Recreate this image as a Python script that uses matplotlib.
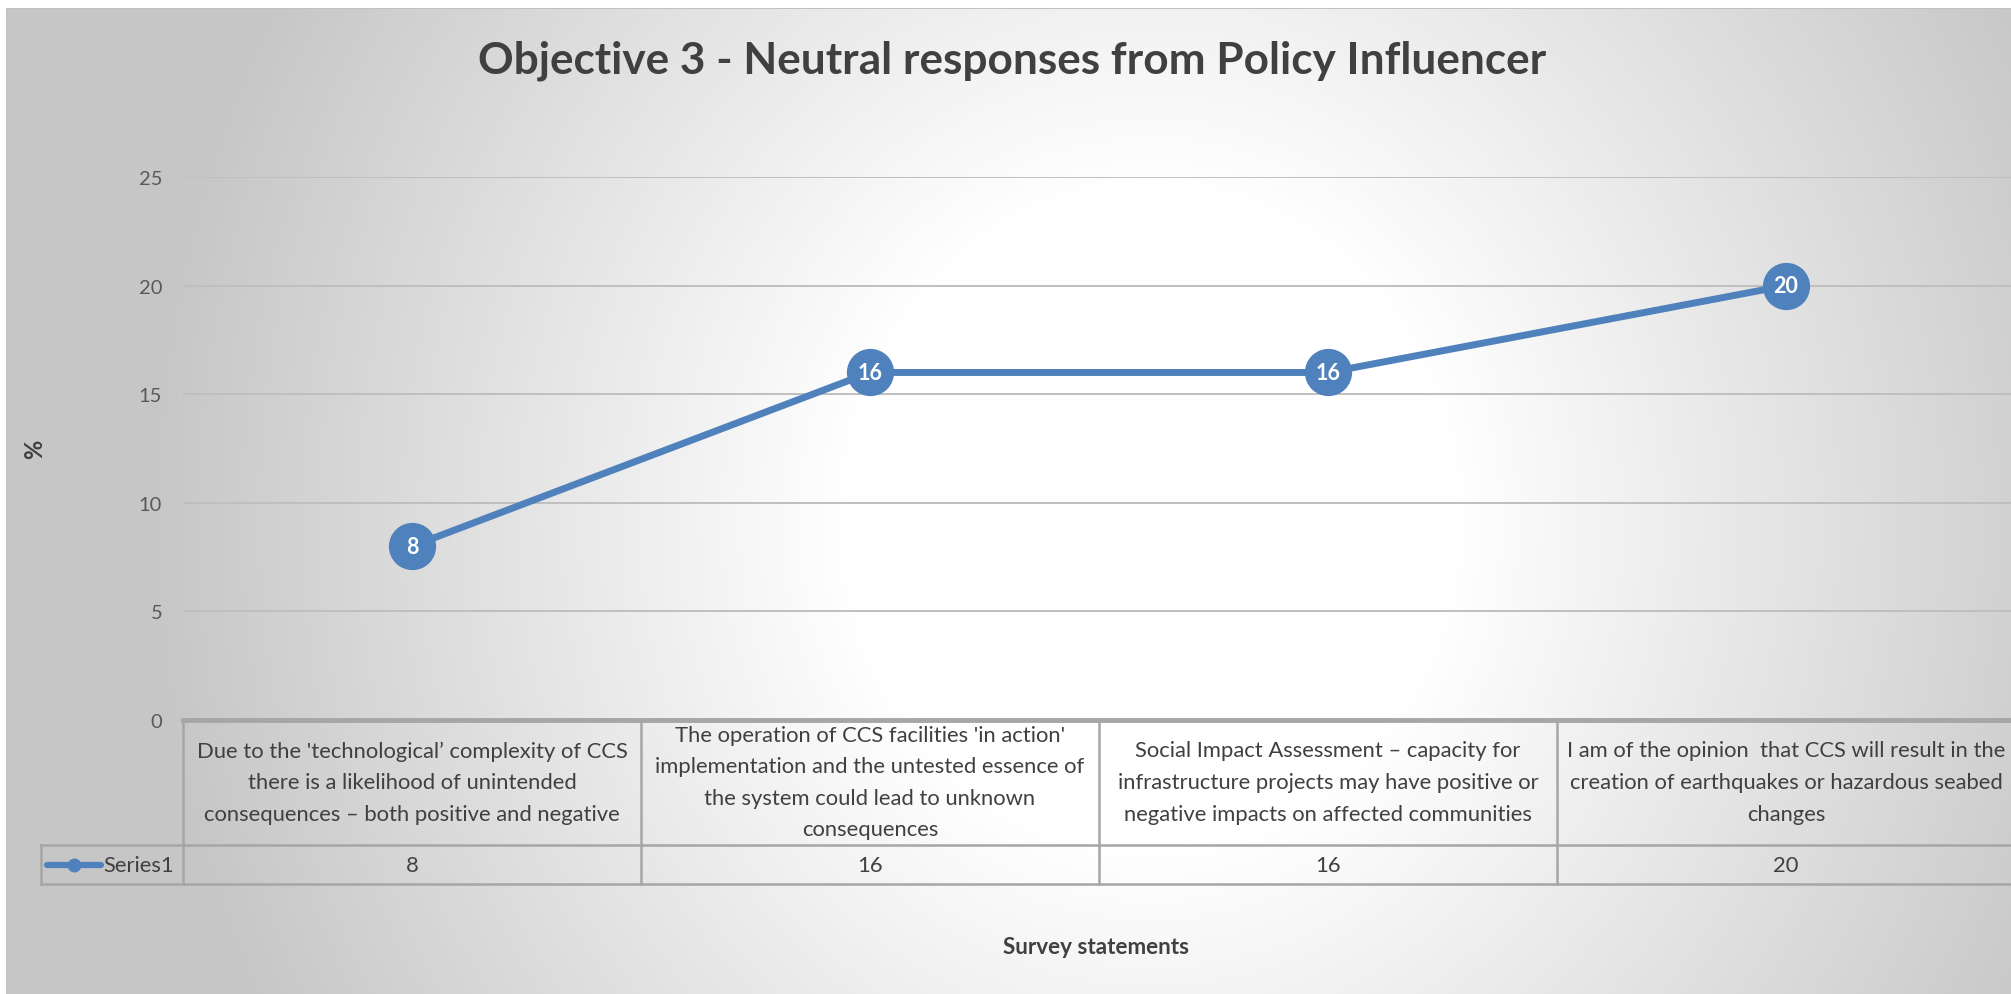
import numpy as np
import matplotlib
matplotlib.use("Agg")
import matplotlib.pyplot as plt
import matplotlib.transforms as mtransforms

plt.rcParams['font.family'] = ['Lato', 'DejaVu Sans']

# survey data
categories = [
    "Due to the 'technological\u2019 complexity of CCS\nthere is a likelihood of unintended\nconsequences \u2013 both positive and negative",
    "The operation of CCS facilities 'in action'\nimplementation and the untested essence of\nthe system could lead to unknown\nconsequences",
    "Social Impact Assessment \u2013 capacity for\ninfrastructure projects may have positive or\nnegative impacts on affected communities",
    "I am of the opinion  that CCS will result in the\ncreation of earthquakes or hazardous seabed\nchanges",
]
values = [8, 16, 16, 20]
series_name = "Series1"
yticks = [0, 5, 10, 15, 20, 25]

W, H = 2011, 995
blue = "#4f81bd"
text_dark = "#404040"
border = "#a6a6a6"

fig = plt.figure(figsize=(W / 100, H / 100), dpi=100)

# radial grey-to-white chart background
bg = fig.add_axes([0, 0, 1, 1])
yy, xx = np.mgrid[0:H, 0:W]
r = np.sqrt(((xx - 1150) / 920.0) ** 2 + ((yy - 520) / 1000.0) ** 2)
t = np.clip((r - 0.33) / 0.75, 0, 1)
shade = 1 - 0.22 * t
shade[9, 7:] = 0.76
shade[9:, 6] = 0.76
shade[:9, :] = 1.0
shade[:, :6] = 1.0
bg.imshow(np.dstack([shade] * 3), aspect="auto", extent=(0, W, H, 0))
bg.set_xlim(0, W)
bg.set_ylim(H, 0)
bg.axis("off")

# plot area in pixel placement
left_px, right_px, top_px, base_px = 183, 2015, 178, 721
ax = fig.add_axes([left_px / W, (H - base_px) / H,
                   (right_px - left_px) / W, (base_px - top_px) / H])
ax.set_facecolor("none")
x = np.arange(len(values))
ax.set_xlim(-0.5, len(values) - 0.5)
ax.set_ylim(0, 25)
ax.set_yticks(yticks)
ax.set_xticks([])
ax.tick_params(axis="y", length=0, pad=15, labelsize=14.5, labelcolor="#595959")
for s in ax.spines.values():
    s.set_visible(False)
for yv in yticks[1:]:
    ax.axhline(yv, color="#bfbfbf", lw=1.4, zorder=1)
ax.axhline(0, color=border, lw=3.5, zorder=2, clip_on=False)

ax.plot(x, values, color=blue, lw=5, marker="o", ms=33, mfc=blue, mec=blue,
        zorder=3, clip_on=False)
for xi, v in zip(x, values):
    ax.text(xi, v, str(v), color="white", fontsize=15.5, fontweight="bold",
            ha="center", va="center", zorder=4)

# data table under the axis
trans = mtransforms.blended_transform_factory(ax.transData, ax.transAxes)
ph = base_px - top_px
def yfrac(py):
    return (base_px - py) / ph

row1 = yfrac(846)
row2 = yfrac(885)
label_left = -0.5 - (left_px - 41) / 458.0

lkw = dict(color=border, lw=1.8, transform=trans, clip_on=False, zorder=2)
ax.plot([-0.5, len(values) - 0.5], [row1, row1], **lkw)
ax.plot([label_left, len(values) - 0.5], [row2, row2], **lkw)
ax.plot([label_left, -0.5], [row1, row1], **lkw)
ax.plot([label_left, label_left], [row1, row2], **lkw)
for b in np.arange(len(values) + 1) - 0.5:
    ax.plot([b, b], [0, row2], **lkw)

cell_size = 15.8
for xi, cat, v in zip(x, categories, values):
    ax.text(xi, yfrac(783), cat, transform=trans, ha="center", va="center",
            fontsize=cell_size, color=text_dark, linespacing=1.72, clip_on=False)
    ax.text(xi, yfrac(866), str(v), transform=trans, ha="center", va="center",
            fontsize=cell_size, color=text_dark, clip_on=False)

# legend key inside the row header
kx0 = -0.5 - (left_px - 47) / 458.0
kx1 = -0.5 - (left_px - 101) / 458.0
ax.plot([kx0, kx1], [yfrac(866)] * 2, color=blue, lw=4.5, transform=trans,
        clip_on=False, solid_capstyle="round")
ax.plot([(kx0 + kx1) / 2], [yfrac(866)], "o", color=blue, ms=9, transform=trans,
        clip_on=False)
ax.text(kx1 + 0.005, yfrac(866), series_name, transform=trans, ha="left",
        va="center", fontsize=cell_size, color=text_dark, clip_on=False)

fig.text(1012 / W, 1 - 61 / H, "Objective 3 - Neutral responses from Policy Influencer",
         ha="center", va="center", fontsize=31.8, fontweight="bold", color=text_dark)
fig.text(35 / W, 1 - 449 / H, "%", rotation=90, ha="center", va="center",
         fontsize=17, fontweight="bold", color=text_dark)
fig.text(1096 / W, 1 - 948 / H, "Survey statements", ha="center", va="center",
         fontsize=16.2, fontweight="bold", color=text_dark)

fig.savefig("out.png", dpi=100)
